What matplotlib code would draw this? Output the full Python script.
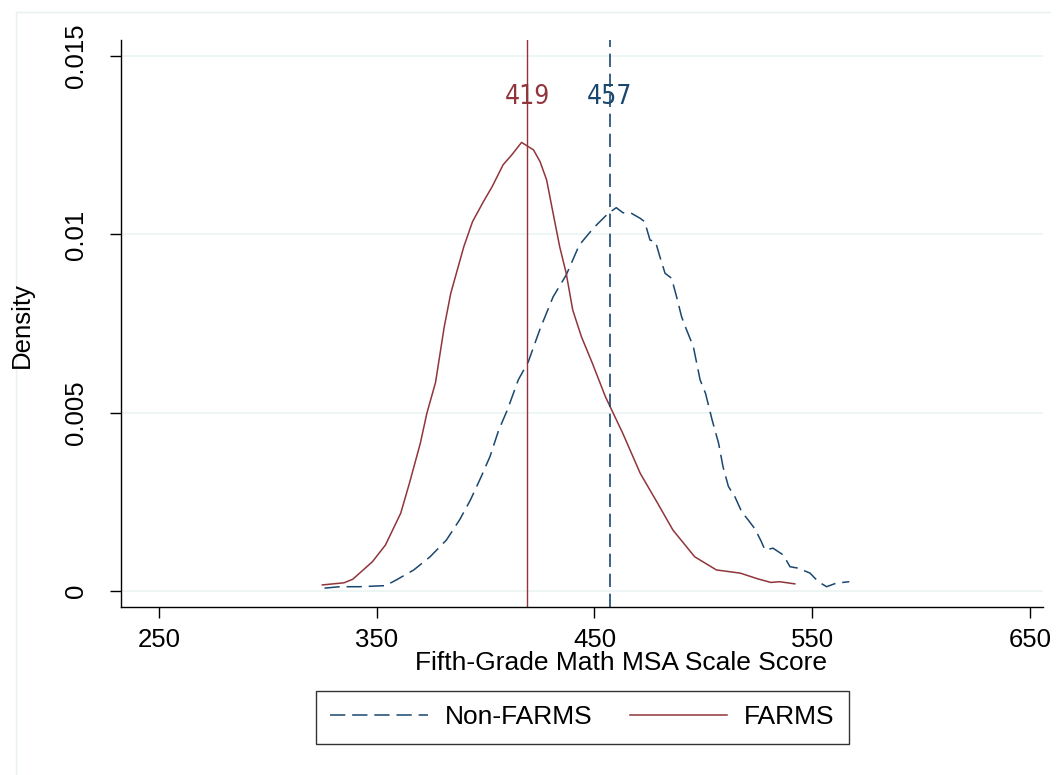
import numpy as np
import matplotlib
matplotlib.use("Agg")
import matplotlib.pyplot as plt
from matplotlib.lines import Line2D

plt.rcParams['font.family'] = ['Liberation Sans', 'DejaVu Sans']

# kernel density of fifth-grade math scores, read off the estimates
farms_x = [325, 335, 339, 348, 354, 361, 365, 370, 373, 377, 381, 384, 390, 394,
           399, 403, 408, 412, 416.5, 422, 425, 428, 431, 434, 437, 440, 444, 449,
           455, 463, 471, 479, 486, 496, 506, 517, 525, 531, 535, 542]
farms_y = [0.00017, 0.00023, 0.00033, 0.00082, 0.00129, 0.00218, 0.00302, 0.00414,
           0.00498, 0.00585, 0.00741, 0.00835, 0.00966, 0.01036, 0.01092, 0.01134,
           0.01195, 0.01223, 0.01258, 0.01237, 0.01204, 0.01153, 0.01059, 0.00966,
           0.00891, 0.00788, 0.00713, 0.00639, 0.00545, 0.00442, 0.00330, 0.00246,
           0.00171, 0.00096, 0.00059, 0.00050, 0.00034, 0.00024, 0.00026, 0.00020]

nonfarms_x = [326, 333, 342, 354, 359, 367, 374.5, 382, 388, 393, 398, 402, 406, 410,
              415, 419.6, 425, 431, 437, 440, 443, 449.4, 452.5, 456.3, 460, 463,
              465.5, 467, 471, 473, 475.5, 478, 480, 482.4, 485.4, 487.7, 490, 492.3,
              495.4, 498.5, 501, 504, 507, 509, 511.5, 514.5, 517.6, 520.6, 523.7,
              526.5, 528.3, 532, 536.7, 539.8, 543.6, 549, 552.8, 556.6, 561, 567]
nonfarms_y = [0.00008, 0.00012, 0.00012, 0.00015, 0.00031, 0.00059, 0.00096, 0.00143,
              0.00199, 0.00255, 0.00321, 0.00377, 0.00451, 0.00508, 0.00592, 0.00643,
              0.00735, 0.00825, 0.00886, 0.00928, 0.00970, 0.01017, 0.01036, 0.01059,
              0.01075, 0.01061, 0.01059, 0.01059, 0.01045, 0.01036, 0.00984, 0.00980,
              0.00938, 0.00891, 0.00877, 0.00825, 0.00769, 0.00732, 0.00685, 0.00592,
              0.00554, 0.00480, 0.00414, 0.00349, 0.00293, 0.00264, 0.00222, 0.00199,
              0.00174, 0.00140, 0.00115, 0.00120, 0.00101, 0.00068, 0.00064, 0.00050,
              0.00026, 0.00012, 0.00022, 0.00026]

farms_mean = 419
nonfarms_mean = 457

x_ticks = [250, 350, 450, 550, 650]
y_ticks = [0, 0.005, 0.01, 0.015]
y_ticklabels = ['0', '0.005', '0.01', '0.015']

maroon = '#90353b'
navy = '#1a476f'

W, H = 1059, 775
fig = plt.figure(figsize=(W / 100, H / 100), dpi=100)
fig.patch.set_facecolor('white')

# faint outer frame of the graph region
fig.add_artist(Line2D([16 / W, 1050 / W], [1 - 12 / H, 1 - 12 / H],
                      color='#e9f0f0', lw=1))
fig.add_artist(Line2D([16 / W, 16 / W], [1 - 12 / H, 0], color='#e9f0f0', lw=1))

ax = fig.add_axes([121 / W, 1 - 607 / H, (1043 - 121) / W, (607 - 40) / H])
ax.set_xlim(232.55, 655.97)
ax.set_ylim(-0.000449, 0.015452)

for v in y_ticks:
    ax.axhline(v, color='#eaf2f3', lw=1.1, zorder=0)

ax.plot(nonfarms_x, nonfarms_y, color=navy, lw=1.1, dashes=(10, 4.5),
        label='Non-FARMS')
ax.plot(farms_x, farms_y, color=maroon, lw=1.1, label='FARMS')

ax.axvline(farms_mean, color=maroon, lw=1.0)
ax.axvline(nonfarms_mean, color=navy, lw=1.2, dashes=(8, 4))

narrow = ['Liberation Sans Narrow', 'DejaVu Sans']
ax.text(farms_mean, 0.01385, str(farms_mean), color=maroon, ha='center',
        va='center', fontsize=19, family=narrow, stretch='condensed')
ax.text(nonfarms_mean, 0.01385, str(nonfarms_mean), color=navy, ha='center',
        va='center', fontsize=19, family=narrow, stretch='condensed')

for s in ['top', 'right']:
    ax.spines[s].set_visible(False)
for s in ['left', 'bottom']:
    ax.spines[s].set_linewidth(1.0)

ax.set_xticks(x_ticks)
ax.set_yticks(y_ticks)
ax.set_yticklabels(y_ticklabels, rotation=90, va='center')
ax.tick_params(axis='both', length=8, width=1.0, labelsize=18.5)
ax.tick_params(axis='x', pad=7)
ax.tick_params(axis='y', pad=16)

fig.text(621 / W, 1 - 663 / H, 'Fifth-Grade Math MSA Scale Score',
         ha='center', va='center', fontsize=19)
fig.text(22 / W, 1 - 325 / H, 'Density', rotation=90, ha='center',
         va='center', fontsize=18.5)

leg = ax.legend(loc='center', bbox_to_anchor=(582.5 / W, 1 - 717.5 / H),
                bbox_transform=fig.transFigure, ncol=2, fontsize=19,
                handlelength=3.7, handletextpad=0.65, columnspacing=1.4,
                borderpad=0.55, frameon=True, fancybox=False)
leg.get_frame().set_edgecolor('black')
leg.get_frame().set_linewidth(1.0)

fig.savefig('out.png', dpi=100, facecolor='white')
